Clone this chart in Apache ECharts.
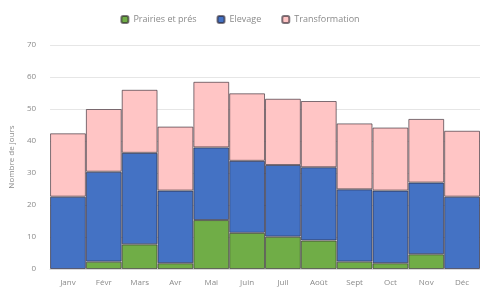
<!DOCTYPE html>
<html>
<head>
<meta charset="utf-8">
<script src="https://cdn.jsdelivr.net/npm/echarts@6/dist/echarts.min.js"></script>
<style>
  html, body { margin: 0; padding: 0; background: #fff; }
  #chart { width: 480px; height: 293px; }
</style>
</head>
<body>
<div id="chart"></div>
<script>
  const mois = ['Janv', 'Févr', 'Mars', 'Avr', 'Mai', 'Juin', 'Juil', 'Août', 'Sept', 'Oct', 'Nov', 'Déc'];
  const prairies = [0, 2.3, 7.7, 1.8, 15.3, 11.3, 10.1, 8.9, 2.3, 1.8, 4.6, 0];
  const elevage = [22.6, 28.1, 28.6, 22.7, 22.7, 22.5, 22.4, 22.9, 22.6, 22.7, 22.4, 22.6];
  const transformation = [19.8, 19.6, 19.7, 20.0, 20.5, 21.1, 20.7, 20.7, 20.6, 19.7, 19.9, 20.6];

  // pas de barre (ni de bordure) quand la valeur vaut 0
  const sansZero = (arr) => arr.map((v) => (v === 0 ? null : v));

  const myChart = echarts.init(document.getElementById('chart'));
  const bordure = 'rgba(40,30,40,0.6)';
  myChart.setOption({
    animation: false,
    textStyle: { fontFamily: 'Open Sans' },
    legend: {
      top: 10,
      left: 'center',
      itemWidth: 7,
      itemHeight: 7,
      itemGap: 20,
      textStyle: { color: '#8a8a8a', fontSize: 9 },
      data: ['Prairies et prés', 'Elevage', 'Transformation'],
    },
    grid: {
      left: 50,
      right: 0,
      top: 45,
      bottom: 24,
    },
    xAxis: {
      type: 'category',
      data: mois,
      axisTick: { show: false },
      axisLine: { lineStyle: { color: '#d9d9d9' } },
      axisLabel: { color: '#8a8a8a', fontSize: 8, margin: 10, interval: 0 },
    },
    yAxis: {
      type: 'value',
      min: 0,
      max: 70,
      interval: 10,
      name: 'Nombre de jours',
      nameLocation: 'middle',
      nameGap: 33,
      nameTextStyle: { color: '#8a8a8a', fontSize: 8 },
      axisLabel: { color: '#8a8a8a', fontSize: 8, margin: 14 },
      splitLine: { lineStyle: { color: '#e6e6e6' } },
    },
    series: [
      {
        name: 'Prairies et prés',
        type: 'bar',
        stack: 'jours',
        barCategoryGap: '0%',
        data: sansZero(prairies),
        itemStyle: { color: '#70ad47', borderColor: bordure, borderWidth: 1 },
      },
      {
        name: 'Elevage',
        type: 'bar',
        stack: 'jours',
        barCategoryGap: '0%',
        data: elevage,
        itemStyle: { color: '#4472c4', borderColor: bordure, borderWidth: 1 },
      },
      {
        name: 'Transformation',
        type: 'bar',
        stack: 'jours',
        barCategoryGap: '0%',
        data: transformation,
        itemStyle: { color: '#ffc5c5', borderColor: bordure, borderWidth: 1 },
      },
    ],
  });
</script>
</body>
</html>
